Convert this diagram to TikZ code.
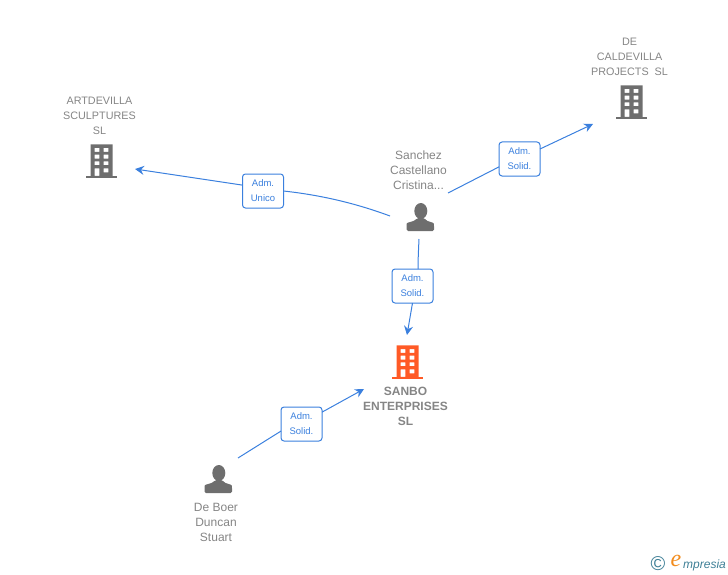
\documentclass[tikz,border=0pt]{standalone}
\usepackage{fontspec}
\setmainfont{Liberation Sans}
\newfontfamily\logofont{Liberation Serif}
\usetikzlibrary{arrows.meta}
\definecolor{linkblue}{HTML}{3B80DE}
\definecolor{icongray}{HTML}{6E6E6E}
\definecolor{labelgray}{HTML}{858585}
\definecolor{sanboorange}{HTML}{FF5A26}
\definecolor{logoteal}{HTML}{3E7F96}
\definecolor{logoorange}{HTML}{F28C1E}
\tikzset{
  iconspot/.style={inner sep=0pt,outer sep=0pt},
  firm/.style={align=center,text=labelgray,inner sep=0pt,font=\fontsize{10.8}{15}\selectfont},
  person name/.style={firm,font=\fontsize{12}{15}\selectfont},
  role/.style={draw=linkblue,line width=1pt,rounded corners=3pt,fill=white,text=linkblue,align=center,
    minimum width=41pt,minimum height=34pt,inner sep=0pt,outer sep=0pt,font=\fontsize{9.5}{15}\selectfont},
  link/.style={draw=linkblue,line width=1pt},
  linkarrow/.style={link,-{Stealth[length=9pt,width=9pt,inset=3pt]}},
  pics/building/.style={code={
    \fill[#1,even odd rule] (-11,-16.7) rectangle (11,14.8)
      \foreach \wy in {-13,-6.3,0.3}{ (-7,\wy) rectangle (-2.2,\wy+3.9) (2,\wy) rectangle (6.8,\wy+3.9) }
      (-7,7.3) rectangle (-2.2,14.8) (2,7.3) rectangle (6.8,11.3);
    \fill[#1] (-15.5,14.8) rectangle (15.5,16.8);
  }},
  pics/person/.style={code={
    \fill[icongray] (0.8,-6) ellipse (6.5 and 8);
    \fill[icongray,rounded corners=1.5pt] (-13.5,14) -- (-13.5,8) .. controls (-13,5) and (-6,5) .. (-3,1) -- (4.5,1)
      .. controls (7,5) and (13.5,5) .. (14,8) -- (14,14) -- cycle;
  }}
}
\begin{document}
\begin{tikzpicture}[x=1pt,y=-1pt]
\useasboundingbox (0,0) rectangle (728,575);
% icons
\node[iconspot,minimum width=68pt,minimum height=16pt] (artdevilla) at (101,161) {};
\node[iconspot,minimum width=76pt,minimum height=44pt] (caldevilla) at (631,102) {};
\node[iconspot,minimum width=58pt,minimum height=46pt] (sanchez) at (419,216) {};
\node[iconspot,minimum width=86pt,minimum height=54pt] (sanbo) at (407,362) {};
\node[iconspot,minimum width=40pt,minimum height=42pt] (deboer) at (218,479) {};
\pic at (101.5,161) {building=icongray};
\pic at (631.5,102) {building=icongray};
\pic at (407.5,362) {building=sanboorange};
\pic at (420,217) {person};
\pic at (218,479) {person};
% names
\node[firm] (artdevillaname) at (99.5,116) {ARTDEVILLA\\SCULPTURES\\SL};
\node[firm] (caldevillaname) at (629.5,57) {DE\\CALDEVILLA\\PROJECTS\ \ SL};
\node[person name] (sanchezname) at (418.5,170) {Sanchez\\Castellano\\Cristina...};
\node[person name,font=\fontsize{12}{15}\selectfont\bfseries] (sanboname) at (405.5,406) {SANBO\\ENTERPRISES\\SL};
\node[person name] (deboername) at (216,522) {De Boer\\Duncan\\Stuart};
% roles
\node[role] (roleart) at (263,191) {Adm.\\Unico};
\node[role] (rolecal) at (519.5,159) {Adm.\\Solid.};
\node[role] (rolesanchez) at (412.5,286) {Adm.\\Solid.};
\node[role] (roledeboer) at (301.5,424) {Adm.\\Solid.};
% links
\draw[link] (sanchez.west) .. controls (355,203) and (320,195) .. (roleart.east);
\draw[linkarrow] (roleart.164) -- (artdevilla.south east);
\draw[link] (sanchez.north east) -- (rolecal.201);
\draw[linkarrow] (rolecal.26) -- (caldevilla.south west);
\draw[link] (sanchez.south) .. controls (418.5,250) and (418,260) .. (rolesanchez.72);
\draw[linkarrow] (rolesanchez.south) -- (sanbo.north);
\draw[link] (deboer.north east) -- (roledeboer.199);
\draw[linkarrow] (roledeboer.30) -- (sanbo.south west);
% logo
\node[inner sep=0pt,text=logoteal,font=\fontsize{20}{20}\selectfont] (logoc) at (658,564) {\textcopyright};
\node[inner sep=0pt,text=logoorange,font=\logofont\fontsize{24}{24}\selectfont\itshape] (logoe) at (676,561) {e};
\node[inner sep=0pt,text=logoteal,font=\fontsize{12}{12}\selectfont\itshape,anchor=west] (logotext) at (683,565) {mpresia};
\end{tikzpicture}
\end{document}
